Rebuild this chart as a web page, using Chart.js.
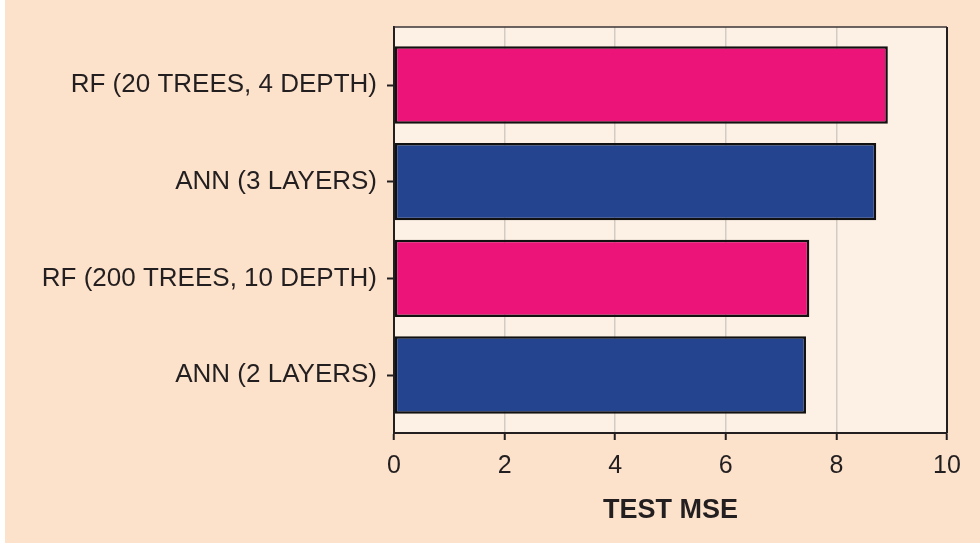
<!DOCTYPE html>
<html>
<head>
<meta charset="utf-8">
<script src="https://cdn.jsdelivr.net/npm/chart.js@4/dist/chart.umd.min.js"></script>
<style>
  html, body { margin: 0; padding: 0; background: #ffffff; }
  #wrap { position: absolute; left: 5px; top: 0; width: 975px; height: 543px; background: #fde2cb; }
</style>
</head>
<body>
<div id="wrap"><canvas id="bar_chart"></canvas></div>
<script>
// data
var models = ['RF (20 TREES, 4 DEPTH)', 'ANN (3 LAYERS)', 'RF (200 TREES, 10 DEPTH)', 'ANN (2 LAYERS)'];
var testMse = [8.93, 8.72, 7.51, 7.45];
var xTicks = [0, 2, 4, 6, 8, 10];

var RF_COLOR = '#ec1478';
var ANN_COLOR = '#24448f';
var INK = '#231f20';
var FONT = '"Liberation Sans", Arial, sans-serif';

var plotFrame = {
    id: 'plotFrame',
    beforeDraw: function (chart) {
        var a = chart.chartArea, c = chart.ctx;
        c.save();
        c.fillStyle = '#fdf0e4';
        c.fillRect(a.left, a.top, a.right - a.left, a.bottom - a.top);
        c.restore();
    },
    afterDraw: function (chart) {
        var a = chart.chartArea, c = chart.ctx;
        c.save();
        c.strokeStyle = '#3a3536';
        c.lineWidth = 1.5;
        c.beginPath();
        c.moveTo(a.left, a.top);
        c.lineTo(a.right, a.top);
        c.stroke();
        c.lineWidth = 2;
        c.strokeStyle = INK;
        c.beginPath();
        c.moveTo(a.right, a.top);
        c.lineTo(a.right, a.bottom);
        c.stroke();
        c.restore();
    }
};

var ctx = document.getElementById('bar_chart').getContext('2d');
var myChart = new Chart(ctx, {
    type: 'bar',
    data: {
        datasets: [{
            label: 'Test MSE',
            data: testMse.map(function (v, i) { return { x: v, y: i }; }),
            backgroundColor: models.map(function (m) { return m.indexOf('RF') === 0 ? RF_COLOR : ANN_COLOR; }),
            borderColor: '#111',
            borderWidth: 2.5,
            borderSkipped: false,
            barPercentage: 0.8,
            categoryPercentage: 1
        }]
    },
    options: {
        indexAxis: 'y',
        responsive: true,
        maintainAspectRatio: false,
        animation: false,
        layout: { padding: { top: 27, right: 33, left: 0, bottom: 0 } },
        plugins: {
            legend: { display: false },
            tooltip: { enabled: false }
        },
        scales: {
            x: {
                type: 'linear',
                min: 0,
                max: 10,
                afterBuildTicks: function (scale) {
                    scale.ticks = xTicks.map(function (v) { return { value: v }; });
                },
                afterFit: function (scale) { scale.height = 110; },
                grid: {
                    color: '#d3ccc4',
                    lineWidth: 1.5,
                    tickColor: INK,
                    tickLength: 7,
                    tickWidth: 2
                },
                border: { display: true, color: INK, width: 2 },
                ticks: {
                    color: INK,
                    padding: 11,
                    font: { family: FONT, size: 25 }
                },
                title: {
                    display: true,
                    text: 'TEST MSE',
                    color: INK,
                    padding: { top: 0, bottom: 16 },
                    font: { family: FONT, size: 27, weight: 'bold' }
                }
            },
            y: {
                type: 'linear',
                reverse: true,
                offset: false,
                min: -0.6,
                max: models.length - 0.4,
                afterBuildTicks: function (scale) {
                    scale.ticks = models.map(function (m, i) { return { value: i }; });
                },
                afterFit: function (scale) { scale.width = 389; },
                grid: {
                    offset: false,
                    drawOnChartArea: false,
                    tickColor: INK,
                    tickLength: 7,
                    tickWidth: 2
                },
                border: { display: true, color: INK, width: 2 },
                ticks: {
                    color: INK,
                    padding: 10,
                    font: { family: FONT, size: 26 },
                    callback: function (v) { return models[v]; }
                }
            }
        }
    },
    plugins: [plotFrame]
});
</script>
</body>
</html>
